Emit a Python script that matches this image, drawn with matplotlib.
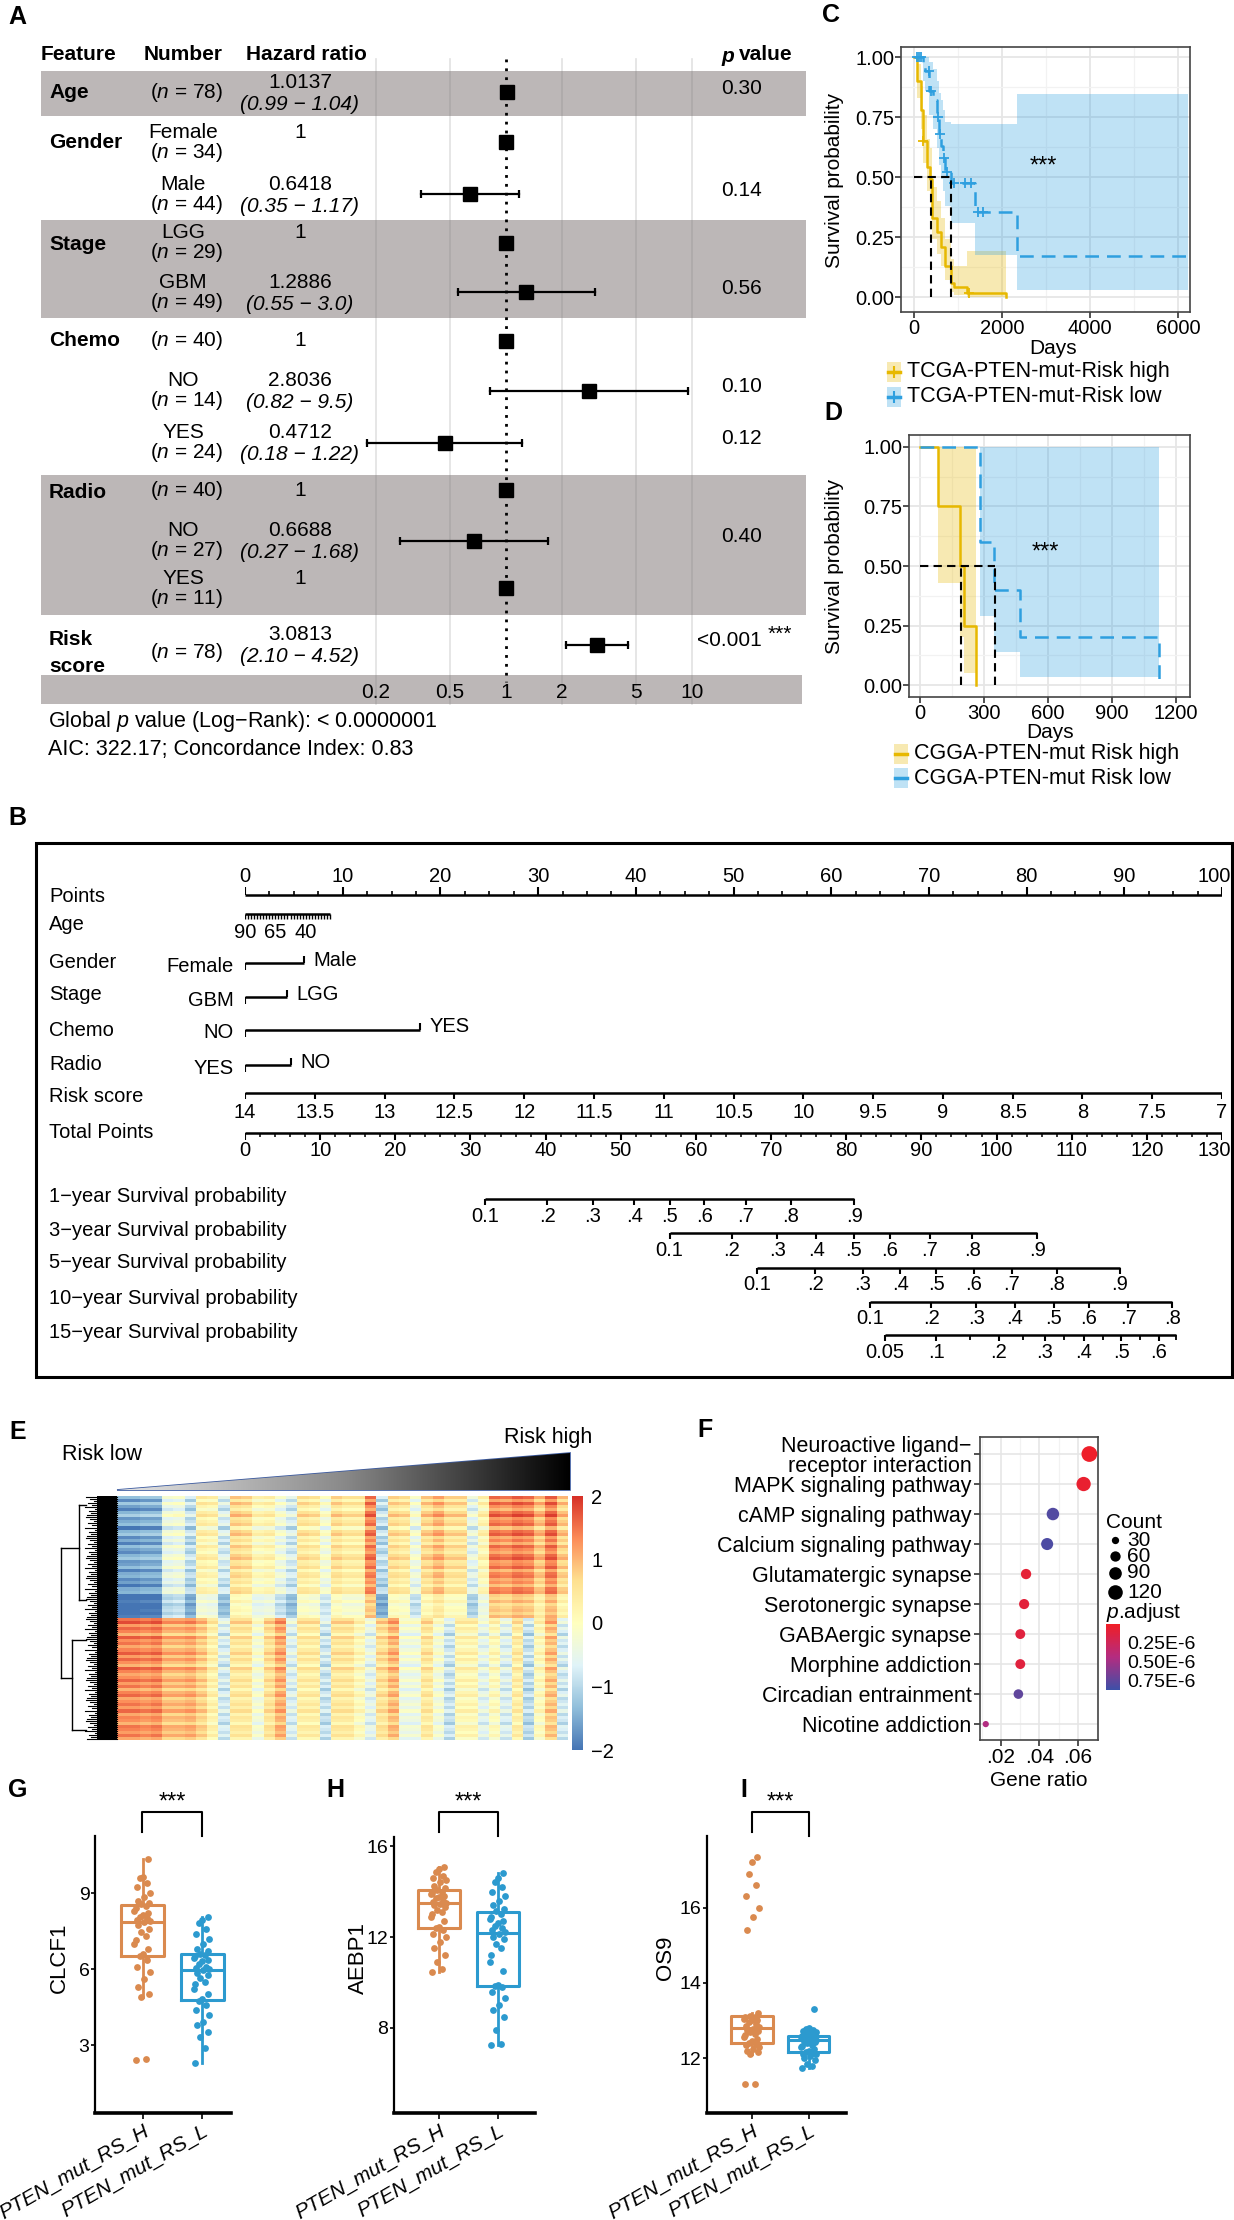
import numpy as np
import matplotlib
matplotlib.use("Agg")
import matplotlib.pyplot as plt
from matplotlib.patches import Rectangle, Polygon
from matplotlib.colors import LinearSegmentedColormap, Normalize
from matplotlib.transforms import ScaledTranslation

plt.rcParams["font.family"] = ["Liberation Sans", "DejaVu Sans"]
plt.rcParams["mathtext.fontset"] = "custom"
plt.rcParams["mathtext.rm"] = "Liberation Sans"
plt.rcParams["mathtext.it"] = "Liberation Sans:italic"
plt.rcParams["mathtext.bf"] = "Liberation Sans:bold"

# ---------------- A: multivariate Cox model ----------------
feat_names = ["Age", "Gender", "Stage", "Chemo", "Radio", "Risk\nscore"]
row_level = ["", "Female", "Male", "LGG", "GBM", "", "NO", "YES", "", "NO", "YES", ""]
row_n = [78, 34, 44, 29, 49, 40, 14, 24, 40, 27, 11, 78]
row_hr = [1.0137, 1, 0.6418, 1, 1.2886, 1, 2.8036, 0.4712, 1, 0.6688, 1, 3.0813]
row_lo = [0.99, None, 0.35, None, 0.55, None, 0.82, 0.18, None, 0.27, None, 2.10]
row_hi = [1.04, None, 1.17, None, 3.0, None, 9.5, 1.22, None, 1.68, None, 4.52]
row_hr_txt = ["1.0137", "1", "0.6418", "1", "1.2886", "1", "2.8036", "0.4712", "1", "0.6688", "1", "3.0813"]
row_ci_txt = ["(0.99 − 1.04)", "", "(0.35 − 1.17)", "", "(0.55 − 3.0)", "", "(0.82 − 9.5)",
              "(0.18 − 1.22)", "", "(0.27 − 1.68)", "", "(2.10 − 4.52)"]
row_p = ["0.30", "", "0.14", "", "0.56", "", "0.10", "0.12", "", "0.40", "", "<0.001"]
hr_ticks = [0.2, 0.5, 1, 2, 5, 10]
hr_tick_labels = ["0.2", "0.5", "1", "2", "5", "10"]

# ---------------- B: nomogram ----------------
nomo_names = ["Points", "Age", "Gender", "Stage", "Chemo", "Radio", "Risk score", "Total Points",
              "1−year Survival probability", "3−year Survival probability",
              "5−year Survival probability", "10−year Survival probability",
              "15−year Survival probability"]
points_labels = list(range(0, 101, 10))
age_labels = [90, 65, 40]
age_span = (90, 20)
age_end_pts = 8.7
gender_levels, gender_pts = ["Female", "Male"], [0, 6.0]
stage_levels, stage_pts = ["GBM", "LGG"], [0, 4.3]
chemo_levels, chemo_pts = ["NO", "YES"], [0, 17.9]
radio_levels, radio_pts = ["YES", "NO"], [0, 4.7]
risk_labels = [14, 13.5, 13, 12.5, 12, 11.5, 11, 10.5, 10, 9.5, 9, 8.5, 8, 7.5, 7]
total_labels = list(range(0, 131, 10))
surv1_lab = ["0.1", ".2", ".3", ".4", ".5", ".6", ".7", ".8", ".9"]
surv1_tp = [32.0, 40.2, 46.3, 51.8, 56.5, 61.1, 66.6, 72.6, 81.1]
surv3_lab = ["0.1", ".2", ".3", ".4", ".5", ".6", ".7", ".8", ".9"]
surv3_tp = [56.5, 64.8, 70.8, 76.0, 81.0, 85.8, 91.1, 96.8, 105.4]
surv5_lab = ["0.1", ".2", ".3", ".4", ".5", ".6", ".7", ".8", ".9"]
surv5_tp = [68.1, 75.9, 82.2, 87.2, 92.0, 97.0, 102.0, 108.0, 116.4]
surv10_lab = ["0.1", ".2", ".3", ".4", ".5", ".6", ".7", ".8"]
surv10_tp = [83.2, 91.3, 97.3, 102.4, 107.6, 112.3, 117.5, 123.4]
surv15_lab = ["0.05", ".1", ".2", ".3", ".4", ".5", ".6"]
surv15_tp = [85.1, 92.0, 100.3, 106.4, 111.6, 116.6, 121.6]
surv15_minor_tp = [96.5, 103.5, 109.0, 114.1, 119.1, 123.9]

# ---------------- C / D: Kaplan-Meier ----------------
tcga_hi_t = [0, 64, 156, 202, 294, 368, 404, 524, 616, 708, 845, 919, 1213, 2086]
tcga_hi_s = [1.0, 0.90, 0.78, 0.65, 0.54, 0.49, 0.33, 0.27, 0.21, 0.13, 0.06, 0.04, 0.015, 0.0]
tcga_hi_lo = [1.0, 0.83, 0.70, 0.56, 0.44, 0.39, 0.24, 0.18, 0.13, 0.07, 0.02, 0.01, 0.0, 0.0]
tcga_hi_up = [1.0, 0.97, 0.88, 0.76, 0.66, 0.62, 0.46, 0.40, 0.33, 0.24, 0.16, 0.13, 0.19, 0.0]
tcga_hi_end = 2090
tcga_hi_cens = [210, 1250]
tcga_lo_t = [0, 202, 248, 340, 432, 524, 570, 616, 662, 708, 845, 1397, 2343]
tcga_lo_s = [1.0, 0.96, 0.94, 0.86, 0.82, 0.75, 0.68, 0.63, 0.58, 0.52, 0.475, 0.355, 0.17]
tcga_lo_lo = [1.0, 0.90, 0.86, 0.76, 0.70, 0.62, 0.55, 0.49, 0.44, 0.38, 0.31, 0.175, 0.03]
tcga_lo_up = [1.0, 1.0, 1.0, 0.98, 0.95, 0.90, 0.85, 0.82, 0.78, 0.73, 0.72, 0.72, 0.845]
tcga_lo_end = 6222
tcga_lo_cens = [60, 110, 160, 330, 380, 540, 600, 680, 760, 900, 1150, 1300, 1450, 1560]
tcga_median = [385, 840]

cgga_hi_t = [0, 83, 188, 207, 262]
cgga_hi_s = [1.0, 0.75, 0.5, 0.25, 0.0]
cgga_hi_lo = [1.0, 0.43, 0.20, 0.05, 0.0]
cgga_hi_up = [1.0, 1.0, 1.0, 1.0, 0.0]
cgga_hi_end = 262
cgga_lo_t = [0, 281, 347, 470, 1120]
cgga_lo_s = [1.0, 0.6, 0.4, 0.2, 0.0]
cgga_lo_lo = [1.0, 0.29, 0.14, 0.035, 0.0]
cgga_lo_up = [1.0, 1.0, 1.0, 1.0, 0.0]
cgga_lo_end = 1120
cgga_median = [190, 350]

# ---------------- E: heatmap (column means per gene cluster + row deviations) ----------------
heat_col_top = [-1.6, -1.6, -1.5, -1.5, -0.5, -0.4, -1.0, 0.2, 0.1, -0.8, 0.6, 0.5, 0.0, 0.1, -0.4,
                -0.8, 0.4, 0.3, -0.3, 0.5, 0.3, 0.3, 1.3, -1.0, 0.5, 0.4, -0.4, 0.6, 0.9, 0.5,
                0.5, -0.6, 0.1, 1.3, 1.2, 1.4, 1.3, 0.8, 1.4, 0.7]
heat_col_bot = [1.3, 1.3, 1.2, 1.3, 0.9, 0.9, 1.0, 0.7, 0.2, -0.8, 0.4, 0.4, -0.3, 0.5, 1.0,
                -0.7, 0.3, 0.3, -0.9, 0.4, 0.4, 0.0, -0.6, 0.5, 0.9, -0.4, -0.4, 0.4, -0.3, -0.9,
                0.1, 0.1, -0.6, 0.0, -0.7, 0.3, -1.0, 0.0, 0.8, -0.8]
heat_row_top = [0.3, -0.2, 0.4, 0.0, -0.3, 0.2, 0.5, -0.1, 0.1, 0.3, -0.4, 0.2, 0.4, -0.2,
                0.1, -0.3, 0.3, 0.0, -0.2, 0.2, 0.4, -0.1, 0.0, 0.3, -0.3, 0.1, 0.2, -0.2,
                0.0, -0.4, 0.1, 0.2, -0.5, -0.6, -0.3, -0.7, -0.5, -0.4, -0.6, -0.3]
heat_row_bot = [0.2, 0.5, -0.1, 0.3, 0.1, -0.3, 0.4, 0.0, 0.2, -0.2, 0.1, 0.4, -0.1, 0.3,
                0.0, -0.3, 0.4, 0.1, -0.2, 0.0, 0.3, -0.1, 0.2, -0.3, 0.1, 0.3, -0.2, 0.0,
                0.2, -0.1, 0.3, -0.2, 0.1, 0.0, -0.3, 0.2, 0.1, -0.1, 0.2, -0.2]

# ---------------- F: KEGG enrichment ----------------
f_terms = ["Neuroactive ligand−\nreceptor interaction", "MAPK signaling pathway",
           "cAMP signaling pathway", "Calcium signaling pathway", "Glutamatergic synapse",
           "Serotonergic synapse", "GABAergic synapse", "Morphine addiction",
           "Circadian entrainment", "Nicotine addiction"]
f_ratio = [0.066, 0.063, 0.047, 0.044, 0.033, 0.032, 0.030, 0.030, 0.029, 0.012]
f_count = [140, 115, 88, 82, 60, 58, 55, 55, 52, 22]
f_padj = [0.02e-6, 0.05e-6, 0.80e-6, 0.82e-6, 0.08e-6, 0.10e-6, 0.12e-6, 0.12e-6, 0.75e-6, 0.45e-6]
count_legend = [30, 60, 90, 120]

# ---------------- G / H / I: expression by risk group ----------------
group_labels = ["PTEN_mut_RS_H", "PTEN_mut_RS_L"]
clcf1_h = [2.4, 2.45, 4.9, 5.0, 5.3, 5.6, 5.9, 6.1, 6.35, 6.5, 6.6, 6.8, 7.0, 7.15, 7.3, 7.45, 7.6,
           7.75, 7.85, 7.9, 7.95, 8.0, 8.05, 8.15, 8.2, 8.3, 8.4, 8.5, 8.55, 8.6, 8.7, 8.85, 9.0,
           9.25, 9.4, 9.6, 9.65, 10.35]
clcf1_l = [2.3, 2.9, 3.3, 3.5, 3.8, 3.9, 4.2, 4.4, 4.6, 4.75, 4.8, 5.0, 5.2, 5.4, 5.5, 5.65, 5.75,
           5.85, 5.95, 6.0, 6.05, 6.1, 6.2, 6.3, 6.35, 6.45, 6.5, 6.55, 6.6, 6.7, 6.8, 7.0, 7.2,
           7.4, 7.6, 7.8, 7.95, 8.05]
aebp1_h = [10.45, 10.6, 10.9, 11.2, 11.5, 11.8, 12.0, 12.15, 12.3, 12.38, 12.45, 12.7, 12.9, 13.0,
           13.1, 13.2, 13.3, 13.4, 13.45, 13.5, 13.55, 13.6, 13.7, 13.75, 13.8, 13.9, 13.95, 14.0,
           14.08, 14.15, 14.25, 14.4, 14.5, 14.6, 14.7, 14.85, 15.0, 15.1]
aebp1_l = [7.25, 7.3, 7.9, 8.5, 8.8, 9.0, 9.3, 9.6, 9.8, 9.83, 9.9, 10.5, 10.9, 11.2, 11.5, 11.7,
           11.9, 12.0, 12.15, 12.2, 12.3, 12.4, 12.5, 12.6, 12.7, 12.8, 12.9, 13.0, 13.15, 13.25,
           13.4, 13.6, 13.8, 14.0, 14.2, 14.4, 14.6, 14.8]
os9_h = [11.3, 11.32, 12.1, 12.15, 12.2, 12.25, 12.3, 12.35, 12.38, 12.4, 12.45, 12.5, 12.55, 12.6,
         12.65, 12.7, 12.72, 12.75, 12.78, 12.82, 12.85, 12.9, 12.95, 13.0, 13.02, 13.05, 13.08,
         13.1, 13.12, 13.2, 15.4, 15.75, 16.0, 16.3, 16.6, 16.9, 17.2, 17.35]
os9_l = [11.73, 11.8, 11.85, 11.95, 12.0, 12.05, 12.1, 12.12, 12.14, 12.16, 12.2, 12.25, 12.3,
         12.33, 12.36, 12.4, 12.42, 12.45, 12.47, 12.49, 12.5, 12.52, 12.53, 12.55, 12.56, 12.57,
         12.58, 12.59, 12.6, 12.62, 12.65, 12.68, 12.7, 12.72, 12.75, 12.78, 12.8, 13.3]

# ======================= drawing =======================
W, H = 1234, 2220
fig = plt.figure(figsize=(W / 100, H / 100), dpi=100)


def px_axes(x0, y0, x1, y1, z=1):
    ax = fig.add_axes([x0 / W, 1 - y1 / H, (x1 - x0) / W, (y1 - y0) / H])
    ax.set_zorder(z)
    return ax


bg = px_axes(0, 0, W, H, z=0)
bg.set_xlim(0, W)
bg.set_ylim(H, 0)
bg.axis("off")
ov = px_axes(0, 0, W, H, z=20)
ov.set_xlim(0, W)
ov.set_ylim(H, 0)
ov.axis("off")

for lab, x, y in [("A", 8, 17), ("C", 822, 15), ("D", 824, 413), ("B", 8, 818), ("E", 9, 1432),
                  ("F", 697, 1430), ("G", 8, 1790), ("H", 326, 1790), ("I", 740, 1790)]:
    ov.text(x, y, lab, fontsize=18, fontweight="bold", ha="left", va="center")

# ---- A ----
GREY = "#BCB7B7"
ROW_Y = [92, 142, 194, 243, 292, 341, 391, 443, 490, 541, 588, 645]
FEAT_Y = [93, 143, 245, 340, 493, 653]
BAND_EDGES = [71, 116, 220, 318, 475, 615, 675]
for i in range(len(BAND_EDGES) - 1):
    if i % 2 == 0:
        bg.add_patch(Rectangle((41, BAND_EDGES[i]), 806 - 41, BAND_EDGES[i + 1] - BAND_EDGES[i],
                               color=GREY, lw=0))
bg.add_patch(Rectangle((41, 675), 802 - 41, 29, color=GREY, lw=0))

fa = px_axes(300, 0, 712, 720)
fa.set_xscale("log")
fa.set_xlim(10 ** (-206 / 186), 10 ** (206 / 186))
fa.set_ylim(720, 0)
fa.axis("off")
for v, lab in zip(hr_ticks, hr_tick_labels):
    if v != 1:
        fa.plot([v, v], [59, 704], color="#7a7a7a", alpha=0.22, lw=1.2)
    fa.text(v, 693, lab, ha="center", va="center", fontsize=15)
fa.plot([1, 1], [59, 682], color="black", lw=2, ls=(0, (1, 2.2)))
for i, y in enumerate(ROW_Y):
    if row_lo[i] is not None:
        fa.plot([row_lo[i], row_hi[i]], [y, y], color="black", lw=1.6)
        fa.vlines([row_lo[i], row_hi[i]], y - 4, y + 4, color="black", lw=1.6)
    fa.plot(row_hr[i], y, marker="s", ms=10, color="black", ls="none")

FS_A = 15
ov.text(41, 55, "Feature", fontsize=FS_A, fontweight="bold", va="center")
ov.text(144, 55, "Number", fontsize=FS_A, fontweight="bold", va="center")
ov.text(246, 55, "Hazard ratio", fontsize=FS_A, fontweight="bold", va="center")
ov.text(721, 57, "p", fontsize=FS_A, fontweight="bold", fontstyle="italic", va="center")
ov.text(739, 55, "value", fontsize=FS_A, fontweight="bold", va="center")
for name, y in zip(feat_names, FEAT_Y):
    ov.text(49, y, name, fontsize=FS_A, fontweight="bold", va="center", linespacing=1.5)
for i, y in enumerate(ROW_Y):
    ntxt = "($\\mathit{n}$ = %d)" % row_n[i]
    if row_level[i]:
        ov.text(183, y - 10, row_level[i], fontsize=FS_A, ha="center", va="center")
        ov.text(187, y + 10, ntxt, fontsize=FS_A, ha="center", va="center")
    else:
        ov.text(187, y + (7 if i == 11 else 0), ntxt, fontsize=FS_A, ha="center", va="center")
    if row_ci_txt[i]:
        ov.text(300, y - 10, row_hr_txt[i], fontsize=FS_A, ha="center", va="center")
        ov.text(300, y + 12, row_ci_txt[i], fontsize=FS_A, ha="center", va="center",
                fontstyle="italic")
    else:
        ov.text(300, y - 10 if row_level[i] else y, row_hr_txt[i], fontsize=FS_A,
                ha="center", va="center")
    if row_p[i]:
        ov.text(762, y - 4, row_p[i], fontsize=FS_A, ha="right", va="center")
ov.text(768, 634, "***", fontsize=FS_A, ha="left", va="center")
ov.text(48, 721, "Global $\\mathit{p}$ value (Log−Rank): < 0.0000001", fontsize=15.5, va="center")
ov.text(48, 750, "AIC: 322.17; Concordance Index: 0.83", fontsize=15.5, va="center")

# ---- B: nomogram ----
bg.add_patch(Rectangle((36, 843), 1232 - 36, 1377 - 843, fill=False, lw=2.2, ec="black"))
nb = px_axes(245, 843, 1222, 1377)
nb.set_xlim(0, 100)
nb.set_ylim(1377, 843)
nb.axis("off")
FS_B = 14.5
NAME_Y = [896, 925, 962, 995, 1030, 1065, 1097, 1132, 1197, 1230, 1262, 1298, 1332]
for name, y in zip(nomo_names, NAME_Y):
    ov.text(49, y, name, fontsize=FS_B, va="center")


def nline(x0, x1, y):
    nb.plot([x0, x1], [y, y], color="black", lw=1.8, solid_capstyle="butt")


def edge_label(v, pos, y, last):
    if last:
        nb.text(pos + 0.9, y, v, fontsize=FS_B, ha="right", va="center")
    else:
        nb.text(pos, y, v, fontsize=FS_B, ha="center", va="center")


# Points
nline(0, 100, 895)
nb.vlines(points_labels, 887, 895, color="black", lw=1.5)
nb.vlines(np.arange(0, 100.1, 2.5), 891, 895, color="black", lw=1.2)
for k, v in enumerate(points_labels):
    edge_label(str(v), v, 877, k == len(points_labels) - 1)
# Age
age_scale = age_end_pts / (age_span[0] - age_span[1])
nline(0, age_end_pts, 914)
nb.vlines((age_span[0] - np.arange(age_span[1], age_span[0] + 0.1, 2.5)) * age_scale,
          914, 919, color="black", lw=1.0)
for a in age_labels:
    nb.text((age_span[0] - a) * age_scale, 933, str(a), fontsize=FS_B, ha="center", va="center")
# categorical predictors
for levels, pts, y in [(gender_levels, gender_pts, 963), (stage_levels, stage_pts, 997),
                       (chemo_levels, chemo_pts, 1030), (radio_levels, radio_pts, 1065)]:
    nline(pts[0], pts[1], y)
    nb.vlines(pts[0], y, y + 7, color="black", lw=1.5)
    nb.vlines(pts[1], y - 7, y, color="black", lw=1.5)
    nb.text(pts[0] - 1.2, y + 3, levels[0], fontsize=FS_B, ha="right", va="center")
    nb.text(pts[1] + 1.0, y - 3, levels[1], fontsize=FS_B, ha="left", va="center")
# Risk score
risk_pos = [(risk_labels[0] - v) / (risk_labels[0] - risk_labels[-1]) * 100 for v in risk_labels]
nline(0, 100, 1093)
nb.vlines(risk_pos, 1093, 1099, color="black", lw=1.5)
for v, p in zip(risk_labels, risk_pos):
    nb.text(p, 1113, "%g" % v, fontsize=FS_B, ha="center", va="center")
# Total points
tp_k = 100 / total_labels[-1]
nline(0, 100, 1133)
nb.vlines(np.array(total_labels) * tp_k, 1133, 1140, color="black", lw=1.5)
nb.vlines(np.arange(0, 130.1, 2) * tp_k, 1133, 1137, color="black", lw=1.1)
for k, v in enumerate(total_labels):
    edge_label(str(v), v * tp_k, 1150, k == len(total_labels) - 1)
# survival probabilities
for labs, tps, y in [(surv1_lab, surv1_tp, 1199), (surv3_lab, surv3_tp, 1233),
                     (surv5_lab, surv5_tp, 1268), (surv10_lab, surv10_tp, 1302),
                     (surv15_lab, surv15_tp, 1335)]:
    pos = np.array(tps) * tp_k
    end = pos[-1]
    if labs is surv15_lab:
        end = surv15_minor_tp[-1] * tp_k
        nb.vlines(np.array(surv15_minor_tp) * tp_k, y, y + 5, color="black", lw=1.3)
    nline(pos[0], end, y)
    nb.vlines(pos, y, y + 6, color="black", lw=1.5)
    for lab, p in zip(labs, pos):
        nb.text(p, y + 17, lab, fontsize=FS_B, ha="center", va="center")

# ---- C / D: KM curves ----
KM_HI, KM_LO = "#E7B800", "#2E9FDF"
DASH = (0, (5.5, 3.2))


def draw_km(ax, t, s, lo, up, t_end, color, ls, cens=None):
    tt = np.r_[t, t_end]
    ax.fill_between(tt, np.r_[lo, lo[-1]], np.r_[up, up[-1]], step="post", color=color,
                    alpha=0.3, lw=0)
    ax.step(tt, np.r_[s, s[-1]], where="post", color=color, ls=ls, lw=1.8)
    if cens is not None:
        idx = np.searchsorted(t, cens, side="right") - 1
        ax.plot(cens, np.asarray(s)[idx], "+", color=color, ms=7, mew=1.3, ls="none")


def km_frame(ax, xticks, xminor):
    ax.set_xticks(xticks)
    ax.set_xticks(xminor, minor=True)
    ax.set_yticks([0, 0.25, 0.5, 0.75, 1.0])
    ax.set_yticks([0.125, 0.375, 0.625, 0.875], minor=True)
    ax.set_yticklabels(["0.00", "0.25", "0.50", "0.75", "1.00"])
    ax.grid(which="major", color="#E6E6E6", lw=1.3)
    ax.grid(which="minor", color="#F2F2F2", lw=0.9)
    ax.set_axisbelow(True)
    for sp in ax.spines.values():
        sp.set_color("#444444")
        sp.set_linewidth(1.2)
    ax.tick_params(which="major", length=4, width=1.2, color="#333333", labelsize=14.5, pad=1)
    ax.tick_params(which="minor", length=0)


axC = px_axes(901, 47, 1190, 312)
axC.set_xlim(-295, 6273)
axC.set_ylim(-0.0625, 1.0417)
draw_km(axC, tcga_hi_t, tcga_hi_s, tcga_hi_lo, tcga_hi_up, tcga_hi_end, KM_HI, "-", tcga_hi_cens)
draw_km(axC, tcga_lo_t, tcga_lo_s, tcga_lo_lo, tcga_lo_up, tcga_lo_end, KM_LO, DASH, tcga_lo_cens)
axC.plot([0, tcga_median[1]], [0.5, 0.5], color="black", lw=1.5, ls=(0, (4, 2.5)))
axC.vlines(tcga_median, 0, 0.5, color="black", lw=1.5, ls=(0, (4, 2.5)))
km_frame(axC, [0, 2000, 4000, 6000], [1000, 3000, 5000])

axD = px_axes(909, 435, 1190, 697)
axD.set_xlim(-52, 1266)
axD.set_ylim(-0.0504, 1.0504)
draw_km(axD, cgga_hi_t, cgga_hi_s, cgga_hi_lo, cgga_hi_up, cgga_hi_end, KM_HI, "-")
draw_km(axD, cgga_lo_t, cgga_lo_s, cgga_lo_lo, cgga_lo_up, cgga_lo_end, KM_LO, DASH)
axD.plot([0, cgga_median[1]], [0.5, 0.5], color="black", lw=1.5, ls=(0, (4, 2.5)))
axD.vlines(cgga_median, 0, 0.5, color="black", lw=1.5, ls=(0, (4, 2.5)))
km_frame(axD, [0, 300, 600, 900, 1200], [150, 450, 750, 1050])

for yc, xl in [(180, 834), (566, 834)]:
    ov.text(xl, yc, "Survival probability", rotation=90, fontsize=15, ha="center", va="center")
ov.text(1053, 349, "Days", fontsize=15, ha="center", va="center")
ov.text(1050, 733, "Days", fontsize=15, ha="center", va="center")
ov.text(1043, 167, "***", fontsize=17, ha="center", va="center")
ov.text(1045, 553, "***", fontsize=17, ha="center", va="center")
for y, col, lab, cross in [(372, KM_HI, "TCGA-PTEN-mut-Risk high", True),
                           (397, KM_LO, "TCGA-PTEN-mut-Risk low", True),
                           (754, KM_HI, "CGGA-PTEN-mut Risk high", False),
                           (778, KM_LO, "CGGA-PTEN-mut Risk low", False)]:
    kx = 887 if cross else 894
    ov.add_patch(Rectangle((kx, y - 10), 14, 20, color=col, alpha=0.3, lw=0))
    ov.plot([kx + 1, kx + 13], [y, y], color=col, lw=2.5)
    if cross:
        ov.plot(kx + 7, y, "+", color=col, ms=9, mew=1.5)
    ov.text(kx + 20, y, lab, fontsize=15.5, ha="left", va="center")

# ---- E: heatmap ----
heat_cmap = LinearSegmentedColormap.from_list(
    "rdylbu", ["#4575B4", "#91BFDB", "#E0F3F8", "#FFFFBF", "#FEE090", "#FC8D59", "#D73027"])
mat = np.vstack([np.add.outer(heat_row_top, heat_col_top),
                 np.add.outer(heat_row_bot, heat_col_bot)])
mat = np.clip(mat, -2, 2)
axE = px_axes(117, 1496, 568, 1740)
imE = axE.imshow(mat, cmap=heat_cmap, vmin=-2, vmax=2, aspect="auto", interpolation="nearest")
axE.axis("off")
cbE_ax = px_axes(572, 1496, 583, 1750)
cbE = fig.colorbar(imE, cax=cbE_ax, ticks=[2, 1, 0, -1, -2])
cbE.outline.set_visible(False)
cbE_ax.tick_params(length=0, labelsize=14.5, pad=6)

# dendrogram
ov.plot([61, 61], [1548, 1678], color="black", lw=1)
ov.plot([61, 79], [1548, 1548], color="black", lw=1)
ov.plot([61, 72], [1678, 1678], color="black", lw=1)
ov.plot([79, 79], [1505, 1600], color="black", lw=1)
ov.plot([72, 72], [1640, 1730], color="black", lw=1)
for yb, xb in [(1505, 79), (1600, 79), (1640, 72), (1730, 72)]:
    ov.plot([xb, 86], [yb, yb], color="black", lw=1)
ragged = [86, 90, 94, 88, 92, 85, 95, 89, 91, 87]
leaf_y = np.linspace(1497, 1739, 120)
for k, yl in enumerate(leaf_y):
    ov.plot([ragged[k % len(ragged)], 117], [yl, yl], color="black", lw=0.8)
ov.add_patch(Rectangle((97, 1496), 20, 244, color="black", lw=0))

# risk triangle
tri = Polygon([[117, 1490], [570, 1453], [570, 1490]], closed=True, fill=False,
              ec="#3B5AA0", lw=1.2)
ov.add_patch(tri)
grey_cmap = LinearSegmentedColormap.from_list("g", ["#E6E6E6", "#8A8A8A", "#000000"])
grad = ov.imshow(np.linspace(0, 1, 256)[None, :], extent=(117, 570, 1490, 1453), cmap=grey_cmap,
                 aspect="auto", zorder=1)
grad.set_clip_path(tri)
ov.set_xlim(0, W)
ov.set_ylim(H, 0)
ov.text(62, 1455, "Risk low", fontsize=15.5, ha="left", va="center")
ov.text(592, 1437, "Risk high", fontsize=15.5, ha="right", va="center")

# ---- F: enrichment dot plot ----
padj_cmap = LinearSegmentedColormap.from_list("padj", ["#F01E26", "#B42C80", "#3D50A8"])
padj_norm = Normalize(vmin=0.0, vmax=0.88e-6)
axF = px_axes(980, 1437, 1098, 1740)
yF = np.arange(len(f_terms))
axF.scatter(f_ratio, yF, s=np.array(f_count) * 0.92, c=f_padj, cmap=padj_cmap, norm=padj_norm,
            zorder=3, lw=0)
axF.set_ylim(len(f_terms) - 0.47, -0.567)
axF.set_xlim(0.009, 0.0705)
axF.set_yticks(yF)
axF.set_yticklabels(f_terms, fontsize=15.5, linespacing=0.95)
axF.set_xticks([0.02, 0.04, 0.06])
axF.set_xticklabels([".02", ".04", ".06"], fontsize=15)
axF.set_xticks([0.01, 0.03, 0.05, 0.07], minor=True)
axF.grid(which="major", color="#E6E6E6", lw=1.2)
axF.grid(which="minor", color="#F2F2F2", lw=0.9)
axF.set_axisbelow(True)
for sp in axF.spines.values():
    sp.set_color("#444444")
    sp.set_linewidth(1.2)
axF.tick_params(which="major", length=4, width=1.2, color="#333333", pad=2)
axF.tick_params(which="minor", length=0)
ov.text(1039, 1780, "Gene ratio", fontsize=15, ha="center", va="center")
ov.text(1106, 1523, "Count", fontsize=15, ha="left", va="center")
for c, y in zip(count_legend, [1540, 1556, 1573, 1592]):
    ov.scatter(1115, y, s=c * 0.92, color="black", lw=0)
    ov.text(1127, y, str(c), fontsize=15, ha="left", va="center")
ov.text(1106, 1613, "$\\mathit{p}$.adjust", fontsize=15, ha="left", va="center")
cbF_ax = px_axes(1106, 1624, 1120, 1690)
cbF = fig.colorbar(plt.cm.ScalarMappable(norm=padj_norm, cmap=padj_cmap), cax=cbF_ax,
                   ticks=[0.25e-6, 0.5e-6, 0.75e-6])
cbF.ax.invert_yaxis()
cbF.outline.set_visible(False)
cbF.ax.set_yticklabels(["0.25E-6", "0.50E-6", "0.75E-6"])
cbF_ax.tick_params(length=3, labelsize=14, pad=2, color="white")

# ---- G / H / I: box plots ----
BOX_H, BOX_L = "#DA8A4F", "#2C9ACF"
JIT = [-0.12, 0.05, -0.03, 0.10, -0.08, 0.02, 0.12, -0.10, 0.07, -0.05, 0.0, 0.09, -0.14]
label_shift = ScaledTranslation(12 / 100, 0, fig.dpi_scale_trans)


def box_panel(rect, vals_h, vals_l, ylim, xlim, yticks, ylab, ylab_x, bracket):
    ax = px_axes(*rect)
    bp = ax.boxplot([vals_h, vals_l], positions=[1, 2], widths=0.72, showfliers=False,
                    showcaps=False, patch_artist=False)
    for k, col in enumerate([BOX_H, BOX_L]):
        bp["boxes"][k].set(color=col, lw=2.2)
        bp["medians"][k].set(color=col, lw=2.2)
        for w in bp["whiskers"][2 * k:2 * k + 2]:
            w.set(color=col, lw=2.0)
    for k, (vals, col) in enumerate([(vals_h, BOX_H), (vals_l, BOX_L)]):
        xs = [k + 1 + JIT[j % len(JIT)] for j in range(len(vals))]
        ax.scatter(xs, vals, s=24, color=col, lw=0, zorder=3)
    ax.set_ylim(*ylim)
    ax.set_xlim(*xlim)
    ax.set_yticks(yticks)
    ax.set_xticks([1, 2])
    ax.set_xticklabels(group_labels, rotation=30, ha="right", va="top", rotation_mode="anchor",
                       fontstyle="italic", fontsize=15)
    for t in ax.get_xticklabels():
        t.set_transform(t.get_transform() + label_shift)
    ax.spines["top"].set_visible(False)
    ax.spines["right"].set_visible(False)
    ax.spines["left"].set_linewidth(1.6)
    ax.spines["bottom"].set_linewidth(2.6)
    ax.tick_params(axis="y", length=3, width=1.2, labelsize=14, pad=1)
    ax.tick_params(axis="x", length=4, width=1.2, pad=2)
    ax.patch.set_visible(False)
    ov.text(ylab_x, 1958, ylab, rotation=90, fontsize=16, ha="center", va="center")
    bl, br = bracket
    ov.plot([bl, bl, br, br], [1832, 1812, 1812, 1836], color="black", lw=1.5)
    ov.text((bl + br) / 2, 1803, "***", fontsize=17, ha="center", va="center")
    return ax


box_panel((95, 1836, 231, 2113), clcf1_h, clcf1_l, (0.32, 11.25), (0.2, 2.483), [3, 6, 9],
          "CLCF1", 59, (142, 202))
box_panel((394, 1837, 535, 2113), aebp1_h, aebp1_l, (4.26, 16.4), (0.237, 2.627), [8, 12, 16],
          "AEBP1", 358, (439, 498))
box_panel((707, 1836, 846, 2113), os9_h, os9_l, (10.54, 17.9), (0.21, 2.65), [12, 14, 16],
          "OS9", 665, (752, 809))

fig.savefig("out.png", dpi=100)
